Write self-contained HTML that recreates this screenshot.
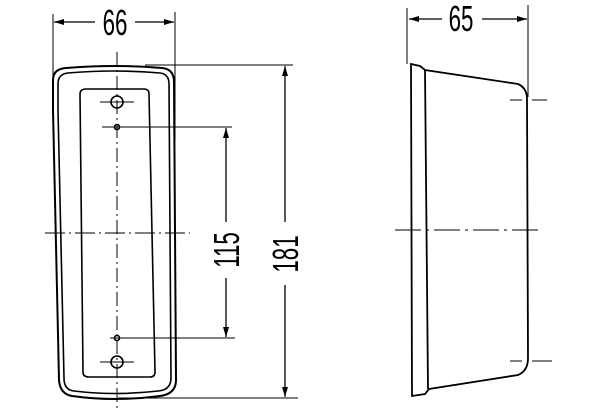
<!DOCTYPE html>
<html><head><style>
html,body{margin:0;padding:0;background:#fff;width:600px;height:417px;overflow:hidden}
svg text{font-family:"Liberation Sans",sans-serif;font-size:36px;fill:#000}
</style></head><body>
<svg width="600" height="417" viewBox="0 0 600 417" xmlns="http://www.w3.org/2000/svg">
<defs>
<marker id="a" markerWidth="10" markerHeight="6" refX="10" refY="3" orient="auto" markerUnits="userSpaceOnUse">
<path d="M0,0 L10,3 L0,6 Z" fill="#000"/></marker>
</defs>
<g stroke="#000" fill="none" stroke-width="1.6">
<path d="M53,110 L53,80 Q53,69 66,68 Q115,64 162,68 Q174,69 174,82 L176,380 Q176,394 160,396 Q115,402 72,396 Q60,394 59,380 Z" stroke-width="2"/>
<path d="M58,110 L58,84 Q58,74 68,73 Q115,69 160,73 Q169,74 169,84 L171,378 Q171,390 158,391 Q115,396 74,391 Q64,390 64,378 Z"/>
<path d="M80,94 Q80,89 86,89 L144,89 Q149,89 149,94 L155,372 Q155,377 150,377 L89,377 Q83,377 83,372 Z"/>
<circle cx="117" cy="102" r="6"/>
<circle cx="117" cy="362" r="6"/>
<circle cx="117" cy="127" r="2.5"/>
<circle cx="117" cy="338" r="2.5"/>
</g>
<g stroke="#000" stroke-width="1">
<line x1="117" y1="52" x2="117" y2="412" stroke-dasharray="14,4,2,4"/>
<line x1="45" y1="233" x2="190" y2="233" stroke-dasharray="20,4,2,4"/>
<line x1="100" y1="102" x2="134" y2="102"/>
<line x1="100" y1="362" x2="134" y2="362"/>
<line x1="102" y1="127" x2="232" y2="127"/>
<line x1="110" y1="338" x2="235" y2="338"/>
<line x1="145" y1="65" x2="293" y2="65"/>
<line x1="118" y1="398" x2="298" y2="398"/>
<line x1="53" y1="14" x2="53" y2="110"/>
<line x1="175" y1="12" x2="175" y2="140"/>
</g>
<g stroke="#000" stroke-width="1.3" fill="none">
<line x1="95" y1="22" x2="54" y2="22" marker-end="url(#a)"/>
<line x1="135" y1="22" x2="174" y2="22" marker-end="url(#a)"/>
<line x1="226" y1="222" x2="226" y2="128" marker-end="url(#a)"/>
<line x1="226" y1="278" x2="226" y2="337" marker-end="url(#a)"/>
<line x1="285" y1="222" x2="285" y2="66" marker-end="url(#a)"/>
<line x1="285" y1="285" x2="285" y2="397" marker-end="url(#a)"/>
<line x1="407" y1="8" x2="407" y2="64" stroke-width="1"/>
<line x1="528" y1="5" x2="528" y2="97" stroke-width="1"/>
<line x1="442" y1="19" x2="409" y2="19" marker-end="url(#a)"/>
<line x1="482" y1="19" x2="527" y2="19" marker-end="url(#a)"/>
<path d="M411,64 L420,66 L425,70 L518,84 Q527,88 527,99 L528,358 Q528,371 518,375 L429,389 L425,394 L412,396 Z" stroke-width="1.8"/>
<line x1="425" y1="70" x2="428" y2="389" stroke-width="1.8"/>
</g>
<g stroke="#000" stroke-width="1">
<line x1="395" y1="230" x2="543" y2="230" stroke-dasharray="26,5,3,5"/>
<line x1="510" y1="100" x2="522" y2="100"/><line x1="532" y1="100" x2="547" y2="100"/>
<line x1="510" y1="361" x2="522" y2="361"/><line x1="532" y1="361" x2="552" y2="361"/>
</g>
<text transform="translate(115,35) scale(0.62,1)" text-anchor="middle">66</text>
<text transform="translate(461,31) scale(0.62,1)" text-anchor="middle">65</text>
<text transform="translate(239,250) rotate(-90) scale(0.62,1)" text-anchor="middle">115</text>
<text transform="translate(298,254) rotate(-90) scale(0.62,1)" text-anchor="middle">181</text>
</svg>
</body></html>
